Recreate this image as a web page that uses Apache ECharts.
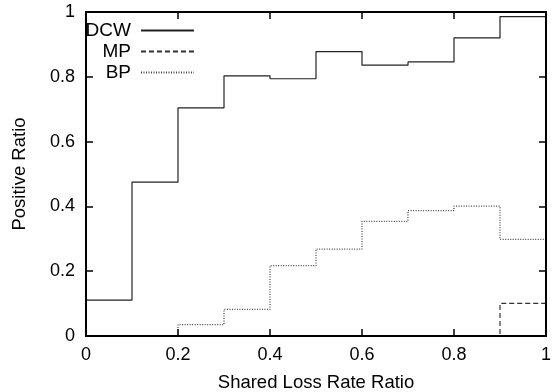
<!DOCTYPE html>
<html><head><meta charset="utf-8">
<script src="https://cdn.jsdelivr.net/npm/echarts@6/dist/echarts.min.js"></script>
<style>html,body{margin:0;padding:0;background:#fff}#c{width:554px;height:392px}</style>
</head><body><div id="c"></div>
<script>
// Bin edges (Shared Loss Rate Ratio) and per-bin values (Positive Ratio)
const binEdges = [0, 0.1, 0.2, 0.3, 0.4, 0.5, 0.6, 0.7, 0.8, 0.9, 1.0];
const dcwValues = [0.111, 0.475, 0.704, 0.803, 0.794, 0.878, 0.836, 0.846, 0.920, 0.986];
const mpValues  = [0, 0, 0, 0, 0, 0, 0, 0, 0, 0.101];
const bpValues  = [0, 0, 0.035, 0.082, 0.217, 0.268, 0.354, 0.387, 0.401, 0.298];
const seriesNames = ['DCW', 'MP', 'BP'];
const xTitle = 'Shared Loss Rate Ratio';
const yTitle = 'Positive Ratio';

const FF = '"Liberation Sans", Arial, Helvetica, sans-serif';
function stepData(vals) {
  return binEdges.map((x, i) => [x, vals[Math.min(i, vals.length - 1)]]);
}
function axisLineS() { return { show: true, onZero: false, lineStyle: { color: '#000', width: 2 } }; }
function tickS() { return { show: true, inside: true, length: 7, lineStyle: { color: '#000', width: 1.5 } }; }
function labelS(m) { return { margin: m, fontSize: 18, color: '#000', fontFamily: FF, showMinLabel: true, showMaxLabel: true }; }
function axis(pos, extra) {
  return Object.assign({ type: 'value', min: 0, max: 1, interval: 0.2, position: pos, z: 10,
    axisLine: axisLineS(), axisTick: tickS(), splitLine: { show: false }, axisLabel: { show: false } }, extra || {});
}

const chart = echarts.init(document.getElementById('c'), null, { renderer: 'canvas' });
chart.setOption({
  animation: false,
  backgroundColor: '#fff',
  grid: { left: 86, right: 8, top: 12, bottom: 56, containLabel: false, outerBoundsMode: 'none' },
  legend: {
    data: seriesNames, orient: 'vertical', align: 'right', right: 359, top: 21, padding: 0,
    itemGap: 2, itemWidth: 53, itemHeight: 14, selectedMode: false,
    itemStyle: { opacity: 0 },
    textStyle: { fontSize: 19, color: '#000', fontFamily: FF, padding: [0, 5, 0, 0] }
  },
  xAxis: [
    axis('bottom', { axisLabel: labelS(10), name: xTitle, nameLocation: 'middle', nameGap: 37,
      nameTextStyle: { fontSize: 18.5, color: '#000', fontFamily: FF } }),
    axis('top')
  ],
  yAxis: [
    axis('left', { axisLabel: labelS(11), name: yTitle, nameLocation: 'middle', nameGap: 57,
      nameTextStyle: { fontSize: 18.5, color: '#000', fontFamily: FF } }),
    axis('right')
  ],
  series: [
    { name: seriesNames[0], type: 'line', step: 'end', symbol: 'none', showSymbol: false, data: stepData(dcwValues),
      lineStyle: { color: '#222', width: 1.2, type: 'solid' }, itemStyle: { color: '#222' } },
    { name: seriesNames[1], type: 'line', step: 'end', symbol: 'none', showSymbol: false, data: stepData(mpValues),
      lineStyle: { color: '#333', width: 1.2, type: [5, 3] }, itemStyle: { color: '#333' } },
    { name: seriesNames[2], type: 'line', step: 'end', symbol: 'none', showSymbol: false, data: stepData(bpValues),
      lineStyle: { color: '#444', width: 1.2, type: [1, 1.5] }, itemStyle: { color: '#444' } }
  ]
});
</script></body></html>
